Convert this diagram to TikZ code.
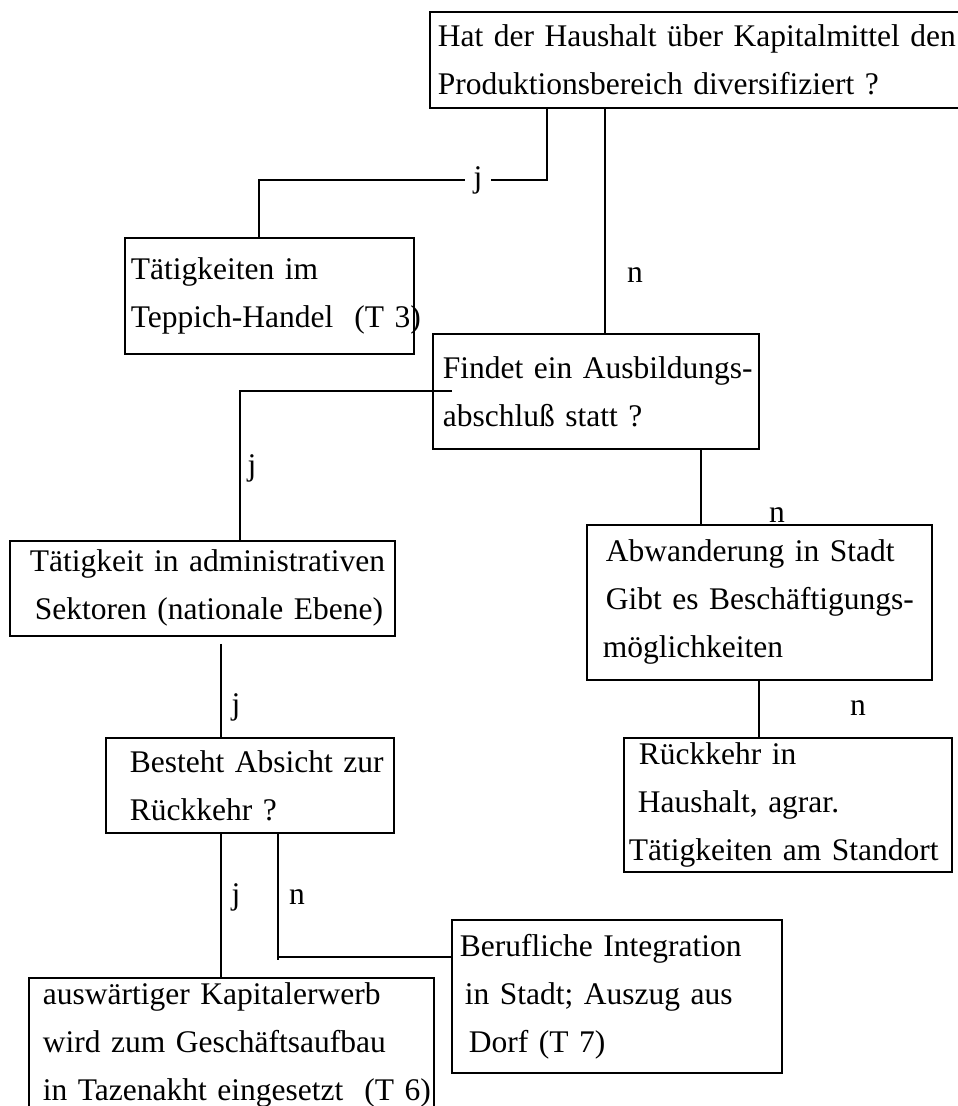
\documentclass[tikz,border=0pt]{standalone}
\usepackage{fontspec}
\setmainfont{Liberation Serif}
\newcommand{\bline}[2]{\hspace*{#1pt}\mbox{#2}}

\begin{document}
\begin{tikzpicture}[x=1pt,y=-1pt,
		qbox/.style={draw,line width=1.8pt,anchor=north west,inner sep=0pt,align=left,
			font=\fontsize{31.5}{48}\selectfont},
		lbl/.style={inner sep=0pt,font=\fontsize{31.5}{48}\selectfont},
		conn/.style={line width=1.8pt}]
		\useasboundingbox (0,0) rectangle (958,1106);

		% boxes
		\node[qbox,text width=533pt,minimum height=96pt] (q1) at (429,11)
			{\bline{8}{Hat der Haushalt über Kapitalmittel den}\\\bline{8}{Produktionsbereich diversifiziert ?}};
		\node[qbox,text width=289pt,minimum height=116pt] (t3) at (124,237)
			{\bline{6}{Tätigkeiten im}\\\bline{6}{Teppich-Handel\ \ (T 3)}};
		\node[qbox,text width=326pt,minimum height=115pt] (q2) at (432,333)
			{\bline{10}{Findet ein Ausbildungs-}\\\bline{10}{abschluß statt ?}};
		\node[qbox,text width=385pt,minimum height=95pt] (a1) at (9,540)
			{\bline{20}{Tätigkeit in administrativen}\\\bline{25}{Sektoren (nationale Ebene)}};
		\node[qbox,text width=345pt,minimum height=155pt] (q3) at (586,524)
			{\bline{19}{Abwanderung in Stadt}\\\bline{19}{Gibt es Beschäftigungs-}\\\bline{16}{möglichkeiten}};
		\node[qbox,text width=288pt,minimum height=95pt] (q4) at (105,737)
			{\bline{24}{Besteht Absicht zur}\\\bline{24}{Rückkehr ?}};
		\node[qbox,text width=328pt,minimum height=134pt] (r1) at (623,737)
			{\bline{15}{Rückkehr in}\\\bline{14}{Haushalt, agrar.}\\\bline{5}{Tätigkeiten am Standort}};
		\node[qbox,text width=330pt,minimum height=153pt] (i1) at (451,919)
			{\bline{8}{Berufliche Integration}\\\bline{13}{in Stadt; Auszug aus}\\\bline{17}{Dorf (T 7)}};
		% lower edge of k1 lies below the page
		\node[qbox,text width=405pt,minimum height=142pt] (k1) at (28,977)
			{\bline{14}{auswärtiger Kapitalerwerb}\\\bline{14}{wird zum Geschäftsaufbau}\\\bline{14}{\rule[-15pt]{0pt}{1pt}in Tazenakht eingesetzt\ \ (T 6)}};

		% bend points
		\coordinate (jA) at (547,180);
		\coordinate (jB) at (259,180);
		\coordinate (nA) at (605,0);
		\coordinate (jC) at (452,391);
		\coordinate (jD) at (240,391);
		\coordinate (nB) at (701,0);
		\coordinate (jE) at (221,0);
		\coordinate (nC) at (759,0);
		\coordinate (nD) at (278,960);
		\coordinate (nE) at (278,957);

		% connectors
		\draw[conn] (q1.south -| jA) -- (jA) -- node[lbl,fill=white,inner xsep=9pt,pos=0.24] (j1) {j} (jB) -- (t3.north -| jB);
		\draw[conn] (q1.south -| nA) -- (q2.north -| nA);
		\draw[conn] (jC) -- (jD) -- (a1.north -| jD);
		\draw[conn] (q2.south -| nB) -- (q3.north -| nB);
		\draw[conn] ([yshift=-7pt]a1.south -| jE) -- (q4.north -| jE);
		\draw[conn] (q3.south -| nC) -- (r1.north -| nC);
		\draw[conn] (q4.south -| jE) -- (k1.north -| jE);
		\draw[conn] (q4.south -| nD) -- (nD);
		\draw[conn] (nE) -- (i1.west |- nE);

		% answer labels
		\foreach \nm/\x/\y/\t in {n1/635/275/n, j2/252/468/j, n2/777/515/n, j3/236/707/j,
			n3/858/708/n, j4/236/897/j, n4/297/897/n} {
			\node[lbl] (\nm) at (\x,\y) {\t};
		}
	\end{tikzpicture}
\end{document}
